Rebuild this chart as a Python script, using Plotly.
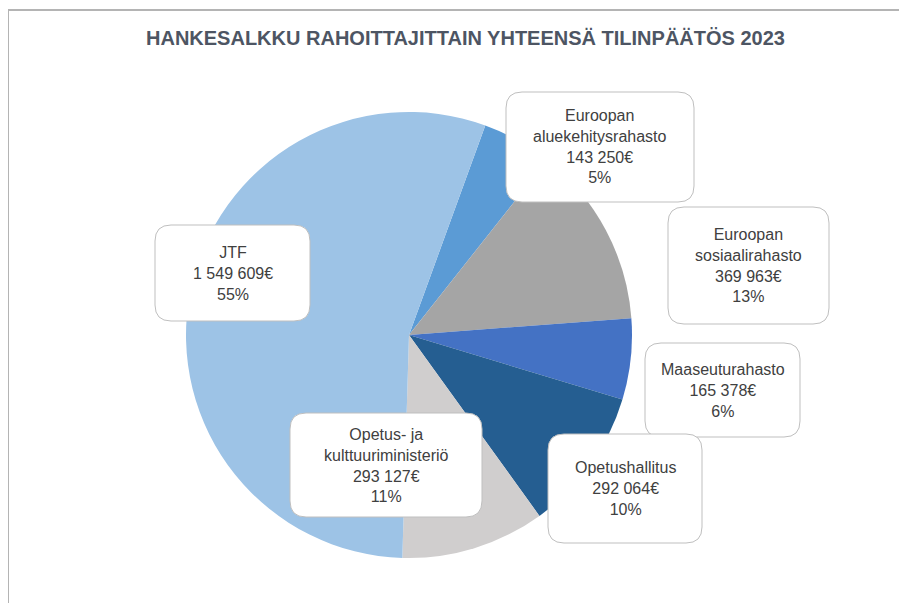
import plotly.graph_objects as go

# ---- data ----
funders = ["Euroopan aluekehitysrahasto", "Euroopan sosiaalirahasto", "Maaseuturahasto",
           "Opetushallitus", "Opetus- ja kulttuuriministeriö", "JTF"]
label_names = ["Euroopan<br>aluekehitysrahasto", "Euroopan<br>sosiaalirahasto", "Maaseuturahasto",
               "Opetushallitus", "Opetus- ja<br>kulttuuriministeriö", "JTF"]
amounts = [143250, 369963, 165378, 292064, 293127, 1549609]
colors = ["#5B9BD5", "#A5A5A5", "#4472C4", "#255E91", "#D0CECE", "#9DC3E6"]
title_text = "HANKESALKKU RAHOITTAJITTAIN YHTEENSÄ TILINPÄÄTÖS 2023"

W, H = 907, 603
OFF = 8  # page body margin


def px(x):
    return (x - OFF) / W


def py(y):
    return 1 - (y - OFF) / H


# percentages rounded to sum to 100 (largest remainder, like Excel)
total = sum(amounts)
raw = [a * 100 / total for a in amounts]
flo = [int(r) for r in raw]
rest = 100 - sum(flo)
order = sorted(range(len(raw)), key=lambda i: raw[i] - flo[i], reverse=True)
pct = flo[:]
for i in order[:rest]:
    pct[i] += 1


def fmt(v):
    return f"{v:,}".replace(",", " ") + "€"


texts = [f"{n}<br>{fmt(a)}<br>{p}%" for n, a, p in zip(label_names, amounts, pct)]

# callout boxes (pixel layout: left, top, right, bottom)
boxes = [(506, 92, 694, 202), (668, 207, 829, 324), (645, 343, 800, 437),
         (548, 434, 702, 543), (290, 413, 482, 517), (155, 225, 310, 321)]

cx, cy, r = 409, 335, 223

fig = go.Figure(go.Pie(
    labels=funders, values=amounts, sort=False, direction="clockwise", rotation=20,
    marker=dict(colors=colors, line=dict(width=0)),
    textinfo="none", hoverinfo="label+value+percent", showlegend=False,
    domain=dict(x=[px(cx - r), px(cx + r)], y=[py(cy + r), py(cy - r)]),
))

shapes = []
rad = 16
for (l, t, rr, b) in boxes:
    pts = [
        (l + rad, t), (rr - rad, t), ("Q", rr, t, rr, t + rad), (rr, b - rad),
        ("Q", rr, b, rr - rad, b), (l + rad, b), ("Q", l, b, l, b - rad), (l, t + rad),
        ("Q", l, t, l + rad, t),
    ]
    path = f"M {px(pts[0][0])},{py(pts[0][1])}"
    for p in pts[1:]:
        if p[0] == "Q":
            path += f" Q {px(p[1])},{py(p[2])} {px(p[3])},{py(p[4])}"
        else:
            path += f" L {px(p[0])},{py(p[1])}"
    path += " Z"
    shapes.append(dict(type="path", xref="paper", yref="paper", path=path,
                       fillcolor="white", line=dict(color="#BFBFBF", width=1), layer="above"))

# outer chart frame (top and left edges visible)
shapes.append(dict(type="line", xref="paper", yref="paper", x0=px(8), y0=py(10), x1=px(920), y1=py(10),
                   line=dict(color="#B4B4B4", width=2)))
shapes.append(dict(type="line", xref="paper", yref="paper", x0=px(8), y0=py(10), x1=px(8), y1=py(620),
                   line=dict(color="#B4B4B4", width=2)))

annotations = []
for (l, t, rr, b), txt in zip(boxes, texts):
    annotations.append(dict(x=px((l + rr) / 2), y=py((t + b) / 2), xref="paper", yref="paper",
                            text=txt, showarrow=False, xanchor="center", yanchor="middle",
                            align="center", font=dict(family="Liberation Sans", size=16, color="#404040")))

annotations.append(dict(x=px(465), y=py(38), xref="paper", yref="paper", text=f"<b>{title_text}</b>",
                        showarrow=False, xanchor="center", yanchor="middle",
                        font=dict(family="Liberation Sans", size=20, color="#4D5563")))

fig.update_layout(
    width=W, height=H, margin=dict(l=0, r=0, t=0, b=0),
    paper_bgcolor="white", plot_bgcolor="white",
    shapes=shapes, annotations=annotations,
)

fig.write_html("out.html")
